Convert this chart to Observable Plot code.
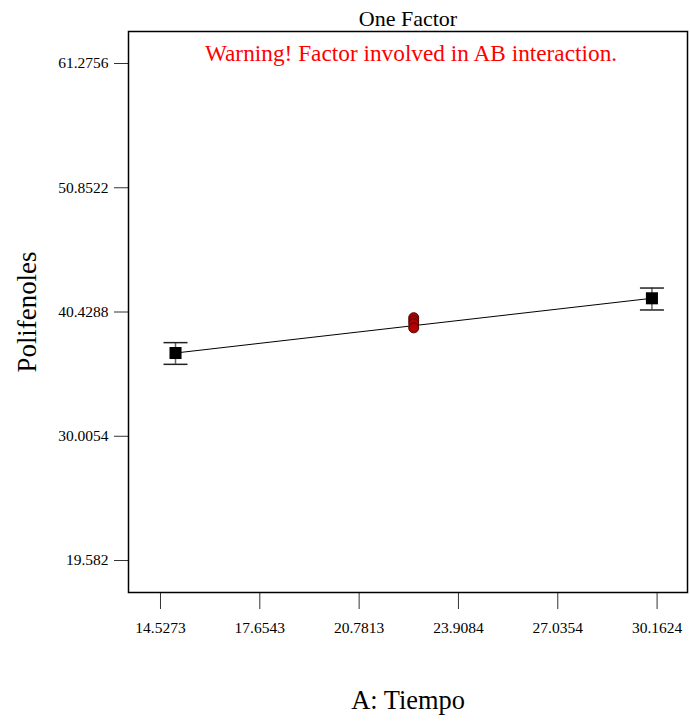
<!DOCTYPE html>
<html>
<head>
<meta charset="utf-8">
<script src="https://cdn.jsdelivr.net/npm/d3@7"></script>
<script src="https://cdn.jsdelivr.net/npm/@observablehq/plot@0.6"></script>
<style>
  body { margin: 0; background: white; }
  svg, svg text { font-family: "Liberation Serif", "Times New Roman", Times, serif !important; }
</style>
</head>
<body>
<div id="chart"></div>
<script>
// Data
const tiempo = [15, 30];
const meanPolifenoles = [36.99, 41.58];
const lowerCI = [36.04, 40.60];
const upperCI = [37.86, 42.44];
const centerTiempo = 22.5;
const centerPolifenoles = [39.95, 39.7, 39.45, 39.1];

const xTicks = [14.5273, 17.6543, 20.7813, 23.9084, 27.0354, 30.1624];
const xTickLabels = ["14.5273", "17.6543", "20.7813", "23.9084", "27.0354", "30.1624"];
const yTicks = [19.582, 30.0054, 40.4288, 50.8522, 61.2756];
const yTickLabels = ["19.582", "30.0054", "40.4288", "50.8522", "61.2756"];
const xDomain = [13.52, 31.12];
const yDomain = [16.90, 63.96];

const titleText = "One Factor";
const warningText = "Warning! Factor involved in AB interaction.";
const xLabel = "A: Tiempo";
const yLabel = "Polifenoles";

const factorial = tiempo.map((t, i) => ({
  t, mean: meanPolifenoles[i], lo: lowerCI[i], hi: upperCI[i]
}));
const centers = centerPolifenoles.map(v => ({t: centerTiempo, v}));

const capSymbol = {
  draw(context) {
    context.moveTo(-12, 0);
    context.lineTo(12, 0);
  }
};

const chart = Plot.plot({
  width: 690,
  height: 722,
  marginLeft: 128,
  marginRight: 3,
  marginTop: 31,
  marginBottom: 130,
  style: {fontSize: "15.5px", background: "white", color: "black", overflow: "visible"},
  x: {domain: xDomain},
  y: {domain: yDomain},
  marks: [
    Plot.axisY({
      ticks: yTicks,
      tickSize: 14,
      tickPadding: 6,
      tickFormat: d => yTickLabels[yTicks.indexOf(d)],
      label: null,
      stroke: "#333"
    }),
    Plot.axisX({
      ticks: xTicks,
      tickSize: 17,
      tickPadding: 12,
      tickFormat: d => xTickLabels[xTicks.indexOf(d)],
      label: null,
      stroke: "#333"
    }),
    Plot.frame({stroke: "black", strokeWidth: 1.5}),
    Plot.ruleX(factorial, {x: "t", y1: "lo", y2: "hi", stroke: "#666", strokeWidth: 1.5}),
    Plot.dot(factorial, {x: "t", y: "lo", symbol: capSymbol, fill: "none", stroke: "#222", strokeWidth: 1.5}),
    Plot.dot(factorial, {x: "t", y: "hi", symbol: capSymbol, fill: "none", stroke: "#222", strokeWidth: 1.5}),
    Plot.line(factorial, {x: "t", y: "mean", stroke: "black", strokeWidth: 1}),
    Plot.dot(factorial, {x: "t", y: "mean", symbol: "square", r: 6.8, fill: "black", stroke: "none"}),
    Plot.dot(centers, {x: "t", y: "v", r: 5, fill: "#b50000", stroke: "#4a0000", strokeWidth: 1}),
    Plot.text([titleText], {frameAnchor: "top", lineAnchor: "middle", textAnchor: "middle", dy: -13, text: d => d, fontSize: 22, fill: "black"}),
    Plot.text([warningText], {frameAnchor: "top", lineAnchor: "middle", textAnchor: "middle", dx: 3, dy: 22, text: d => d, fontSize: 23.3, fill: "#ff0000"}),
    Plot.text([xLabel], {frameAnchor: "bottom", lineAnchor: "middle", textAnchor: "middle", dy: 108, text: d => d, fontSize: 26.4, fill: "black"}),
    Plot.text([yLabel], {frameAnchor: "left", lineAnchor: "middle", textAnchor: "middle", dx: -101, rotate: -90, text: d => d, fontSize: 26.9, fill: "black"})
  ]
});
document.getElementById("chart").appendChild(chart);
</script>
</body>
</html>
